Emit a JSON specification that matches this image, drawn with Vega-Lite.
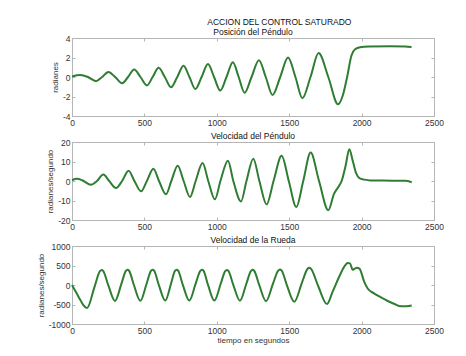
{
  "$schema": "https://vega.github.io/schema/vega-lite/v6.json",
  "background": "white",
  "padding": {"left": 36, "top": 17, "right": 10, "bottom": 5},
  "title": {"text": "ACCION DEL CONTROL SATURADO", "anchor": "middle", "dx": 39, "offset": 1, "fontSize": 8.5, "fontWeight": "normal", "font": "Liberation Sans", "color": "#111"},
  "spacing": 4,
  "datasets": {
    "pos": [
      {"t":0,"v":0.05},{"t":57,"v":0.2},{"t":110,"v":0},{"t":166,"v":-0.43},{"t":208,"v":0},{"t":251,"v":0.52},{"t":298,"v":0},{"t":346,"v":-0.65},{"t":387,"v":0},{"t":429,"v":0.77},{"t":473,"v":0},{"t":517,"v":-0.87},{"t":557,"v":0},{"t":598,"v":0.94},{"t":641,"v":0},{"t":684,"v":-1.05},{"t":727,"v":0},{"t":770,"v":1.16},{"t":811,"v":0},{"t":852,"v":-1.23},{"t":895,"v":0},{"t":939,"v":1.33},{"t":981,"v":0},{"t":1024,"v":-1.39},{"t":1067,"v":0},{"t":1111,"v":1.51},{"t":1151,"v":0},{"t":1192,"v":-1.62},{"t":1240,"v":0},{"t":1291,"v":1.72},{"t":1338,"v":0},{"t":1385,"v":-1.84},{"t":1438,"v":0},{"t":1492,"v":2.0},{"t":1543,"v":0},{"t":1591,"v":-2.17},{"t":1647,"v":0},{"t":1703,"v":2.45},{"t":1770,"v":0},{"t":1837,"v":-2.8},{"t":1870,"v":-1.9},{"t":1900,"v":0},{"t":1930,"v":2.2},{"t":1955,"v":2.85},{"t":1990,"v":3.05},{"t":2050,"v":3.12},{"t":2200,"v":3.16},{"t":2300,"v":3.14},{"t":2345,"v":3.08}
    ],
    "vel": [
      {"t":0,"v":0.4},{"t":35,"v":1.1},{"t":70,"v":0.4},{"t":131,"v":-1.9},{"t":172,"v":0},{"t":216,"v":3.3},{"t":257,"v":0},{"t":304,"v":-3.6},{"t":346,"v":0},{"t":391,"v":5.3},{"t":431,"v":0},{"t":477,"v":-5.3},{"t":517,"v":0},{"t":562,"v":6.3},{"t":601,"v":0},{"t":649,"v":-6.8},{"t":686,"v":0},{"t":730,"v":7.8},{"t":771,"v":0},{"t":815,"v":-8.2},{"t":854,"v":0},{"t":902,"v":9.2},{"t":941,"v":0},{"t":987,"v":-9.4},{"t":1025,"v":0},{"t":1077,"v":10.4},{"t":1114,"v":0},{"t":1167,"v":-10.5},{"t":1205,"v":0},{"t":1252,"v":11.4},{"t":1294,"v":0},{"t":1344,"v":-12},{"t":1392,"v":0},{"t":1448,"v":13},{"t":1497,"v":0},{"t":1549,"v":-13.3},{"t":1597,"v":0},{"t":1648,"v":14.6},{"t":1706,"v":0},{"t":1770,"v":-15},{"t":1810,"v":-6.5},{"t":1838,"v":-3.2},{"t":1862,"v":0},{"t":1890,"v":8},{"t":1915,"v":16.3},{"t":1940,"v":10},{"t":1962,"v":4},{"t":1985,"v":1.5},{"t":2020,"v":0.7},{"t":2060,"v":0.3},{"t":2150,"v":0.2},{"t":2300,"v":0.1},{"t":2346,"v":-0.6}
    ],
    "wheel": [
      {"t":0,"v":0},{"t":30,"v":-200},{"t":60,"v":-400},{"t":85,"v":-545},{"t":104,"v":-592},{"t":155,"v":-55},{"t":193,"v":355},{"t":205,"v":385},{"t":215,"v":362},{"t":251,"v":-12},{"t":297,"v":-410},
      {"t":341,"v":30},{"t":372,"v":360},{"t":384,"v":390},{"t":394,"v":366},{"t":428,"v":-7},{"t":472,"v":-405},
      {"t":515,"v":32},{"t":545,"v":360},{"t":557,"v":390},{"t":567,"v":366},{"t":600,"v":-5},{"t":644,"v":-400},
      {"t":684,"v":35},{"t":711,"v":360},{"t":723,"v":390},{"t":733,"v":366},{"t":766,"v":-5},{"t":810,"v":-400},
      {"t":854,"v":35},{"t":886,"v":360},{"t":898,"v":390},{"t":908,"v":366},{"t":940,"v":-5},{"t":983,"v":-400},
      {"t":1027,"v":32},{"t":1058,"v":355},{"t":1070,"v":385},{"t":1080,"v":361},{"t":1115,"v":-10},{"t":1160,"v":-405},
      {"t":1204,"v":32},{"t":1236,"v":360},{"t":1248,"v":390},{"t":1258,"v":366},{"t":1294,"v":-12},{"t":1340,"v":-415},
      {"t":1388,"v":33},{"t":1424,"v":370},{"t":1436,"v":400},{"t":1447,"v":376},{"t":1485,"v":-15},{"t":1535,"v":-430},
      {"t":1587,"v":48},{"t":1626,"v":410},{"t":1639,"v":440},{"t":1650,"v":416},{"t":1700,"v":-25},{"t":1761,"v":-490},
      {"t":1800,"v":-170},{"t":1850,"v":250},{"t":1880,"v":470},{"t":1904,"v":565},{"t":1920,"v":555},{"t":1938,"v":390},{"t":1953,"v":420},{"t":1968,"v":440},{"t":1985,"v":420},{"t":2019,"v":75},{"t":2042,"v":-90},{"t":2088,"v":-220},{"t":2134,"v":-318},{"t":2180,"v":-410},{"t":2227,"v":-487},{"t":2272,"v":-545},{"t":2310,"v":-545},{"t":2346,"v":-525}
    ]
  },
  "vconcat": [
    {
      "width": 362, "height": 78,
      "title": {"text": "Posición del Péndulo"},
      "data": {"name": "pos"},
      "layer": [
        {"mark": {"type": "line", "color": "#2e7d32", "strokeWidth": 2, "interpolate": "monotone"},
         "encoding": {
           "x": {"field": "t", "type": "quantitative", "scale": {"domain": [0, 2500], "nice": false}, "axis": {"values": [0, 500, 1000, 1500, 2000, 2500], "title": null}},
           "y": {"field": "v", "type": "quantitative", "scale": {"domain": [-4, 4], "nice": false}, "axis": {"values": [-4, -2, 0, 2, 4], "title": "radianes"}}
         }},
        {"mark": {"type": "line", "opacity": 0},
         "encoding": {
           "x": {"field": "t", "type": "quantitative", "axis": {"orient": "top", "values": [0, 500, 1000, 1500, 2000, 2500], "labels": false, "title": null, "minExtent": 0, "maxExtent": 0}},
           "y": {"field": "v", "type": "quantitative", "axis": {"orient": "right", "values": [-4, -2, 0, 2, 4], "labels": false, "title": null, "minExtent": 0, "maxExtent": 0}}
         }}
      ],
      "resolve": {"axis": {"x": "independent", "y": "independent"}}
    },
    {
      "width": 362, "height": 78,
      "title": {"text": "Velocidad del Péndulo"},
      "data": {"name": "vel"},
      "layer": [
        {"mark": {"type": "line", "color": "#2e7d32", "strokeWidth": 2, "interpolate": "monotone"},
         "encoding": {
           "x": {"field": "t", "type": "quantitative", "scale": {"domain": [0, 2500], "nice": false}, "axis": {"values": [0, 500, 1000, 1500, 2000, 2500], "title": null}},
           "y": {"field": "v", "type": "quantitative", "scale": {"domain": [-20, 20], "nice": false}, "axis": {"values": [-20, -10, 0, 10, 20], "title": "radianes/segundo"}}
         }},
        {"mark": {"type": "line", "opacity": 0},
         "encoding": {
           "x": {"field": "t", "type": "quantitative", "axis": {"orient": "top", "values": [0, 500, 1000, 1500, 2000, 2500], "labels": false, "title": null, "minExtent": 0, "maxExtent": 0}},
           "y": {"field": "v", "type": "quantitative", "axis": {"orient": "right", "values": [-20, -10, 0, 10, 20], "labels": false, "title": null, "minExtent": 0, "maxExtent": 0}}
         }}
      ],
      "resolve": {"axis": {"x": "independent", "y": "independent"}}
    },
    {
      "width": 362, "height": 78,
      "title": {"text": "Velocidad de la Rueda"},
      "data": {"name": "wheel"},
      "layer": [
        {"mark": {"type": "line", "color": "#2e7d32", "strokeWidth": 2, "interpolate": "monotone"},
         "encoding": {
           "x": {"field": "t", "type": "quantitative", "scale": {"domain": [0, 2500], "nice": false}, "axis": {"values": [0, 500, 1000, 1500, 2000, 2500], "title": "tiempo en segundos", "titlePadding": 2}},
           "y": {"field": "v", "type": "quantitative", "scale": {"domain": [-1000, 1000], "nice": false}, "axis": {"values": [-1000, -500, 0, 500, 1000], "title": "radianes/segundo"}}
         }},
        {"mark": {"type": "line", "opacity": 0},
         "encoding": {
           "x": {"field": "t", "type": "quantitative", "axis": {"orient": "top", "values": [0, 500, 1000, 1500, 2000, 2500], "labels": false, "title": null, "minExtent": 0, "maxExtent": 0}},
           "y": {"field": "v", "type": "quantitative", "axis": {"orient": "right", "values": [-1000, -500, 0, 500, 1000], "labels": false, "title": null, "minExtent": 0, "maxExtent": 0}}
         }}
      ],
      "resolve": {"axis": {"x": "independent", "y": "independent"}}
    }
  ],
  "config": {
    "font": "Liberation Sans",
    "view": {"stroke": "#b5b5b5", "strokeWidth": 1},
    "title": {"fontSize": 8.5, "fontWeight": "normal", "color": "#111", "offset": -2, "font": "Liberation Sans"},
    "axis": {
      "domain": false, "grid": false,
      "ticks": true, "tickSize": -3, "tickColor": "#b5b5b5",
      "labelFont": "Liberation Sans", "labelFontSize": 8.5, "labelColor": "#333", "labelFlush": false,
      "labelExpr": "'' + datum.value",
      "titleFont": "Liberation Sans", "titleFontSize": 8, "titleFontWeight": "normal", "titleColor": "#333", "titlePadding": 3
    },
    "axisX": {"labelPadding": 5},
    "axisY": {"minExtent": 0, "labelPadding": 5}
  }
}
